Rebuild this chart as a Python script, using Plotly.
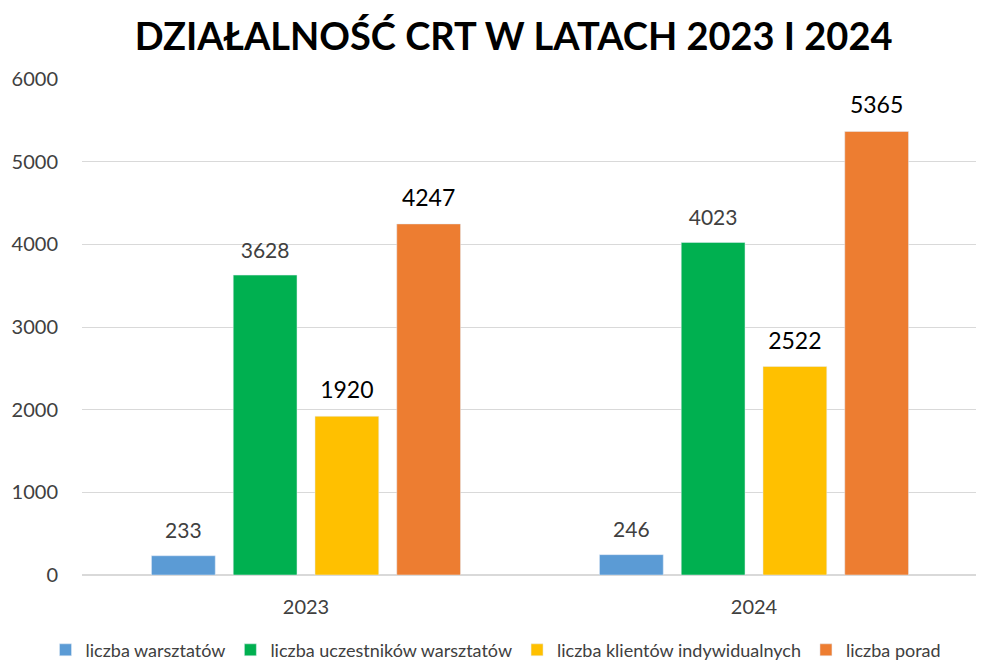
import plotly.graph_objects as go

years = ["2023", "2024"]
series_names = ["liczba warsztatów", "liczba uczestników warsztatów",
                "liczba klientów indywidualnych", "liczba porad"]
warsztaty = [233, 246]
uczestnicy = [3628, 4023]
klienci = [1920, 2522]
porady = [4247, 5365]
y_ticks = [0, 1000, 2000, 3000, 4000, 5000, 6000]

colors = ["#5B9BD5", "#00B050", "#FFC000", "#ED7D31"]
label_colors = ["#404040", "#404040", "#000000", "#000000"]
label_sizes = [21, 21, 23, 23]
FONT = "Lato, Open Sans, sans-serif"

fig = go.Figure()
all_vals = [warsztaty, uczestnicy, klienci, porady]
for k, (name, vals, c) in enumerate(zip(series_names, all_vals, colors)):
    fig.add_trace(go.Bar(x=years, y=vals, name=name, marker_color=c,
                         offsetgroup=str(k)))
for k, (vals, lc, ls) in enumerate(zip(all_vals, label_colors, label_sizes)):
    fig.add_trace(go.Scatter(x=years, y=vals, mode="text+markers",
                             text=[str(v) for v in vals], textposition="top center",
                             marker=dict(size=18, color="rgba(0,0,0,0)"),
                             textfont=dict(color=lc, size=ls, family=FONT),
                             offsetgroup=str(k), showlegend=False,
                             hoverinfo="skip", cliponaxis=False))

fig.update_layout(
    width=976, height=653,
    paper_bgcolor="white", plot_bgcolor="white",
    barmode="group", bargap=0.27, bargroupgap=0.22,
    scattermode="group", scattergap=0.27,
    margin=dict(l=74, r=6, t=71, b=86),
    title=dict(text="<b>DZIAŁALNOŚĆ CRT W LATACH 2023 I 2024</b>",
               x=0.518, xanchor="center", y=0.956, yanchor="middle",
               font=dict(size=38, color="#000000", family=FONT)),
    font=dict(family=FONT, color="#404040", size=19),
    legend=dict(orientation="h", xref="container", yref="container",
                x=0.5, xanchor="center", y=0.045, yanchor="top",
                font=dict(size=18, color="#404040"), traceorder="normal",
                itemwidth=30),
    showlegend=True,
)
fig.update_yaxes(range=[0, 6000], tickvals=y_ticks, showgrid=True,
                 gridcolor="#D9D9D9", gridwidth=1, zeroline=True,
                 zerolinecolor="#D9D9D9", ticks="outside", ticklen=19,
                 tickcolor="rgba(0,0,0,0)", showline=False, automargin=False,
                 tickfont=dict(size=20, color="#404040"))
fig.update_xaxes(type="category", showline=True, linecolor="#D9D9D9",
                 ticks="outside", ticklen=14, tickcolor="rgba(0,0,0,0)",
                 automargin=False,
                 tickfont=dict(size=20, color="#404040"))

fig.write_html("out.html")
